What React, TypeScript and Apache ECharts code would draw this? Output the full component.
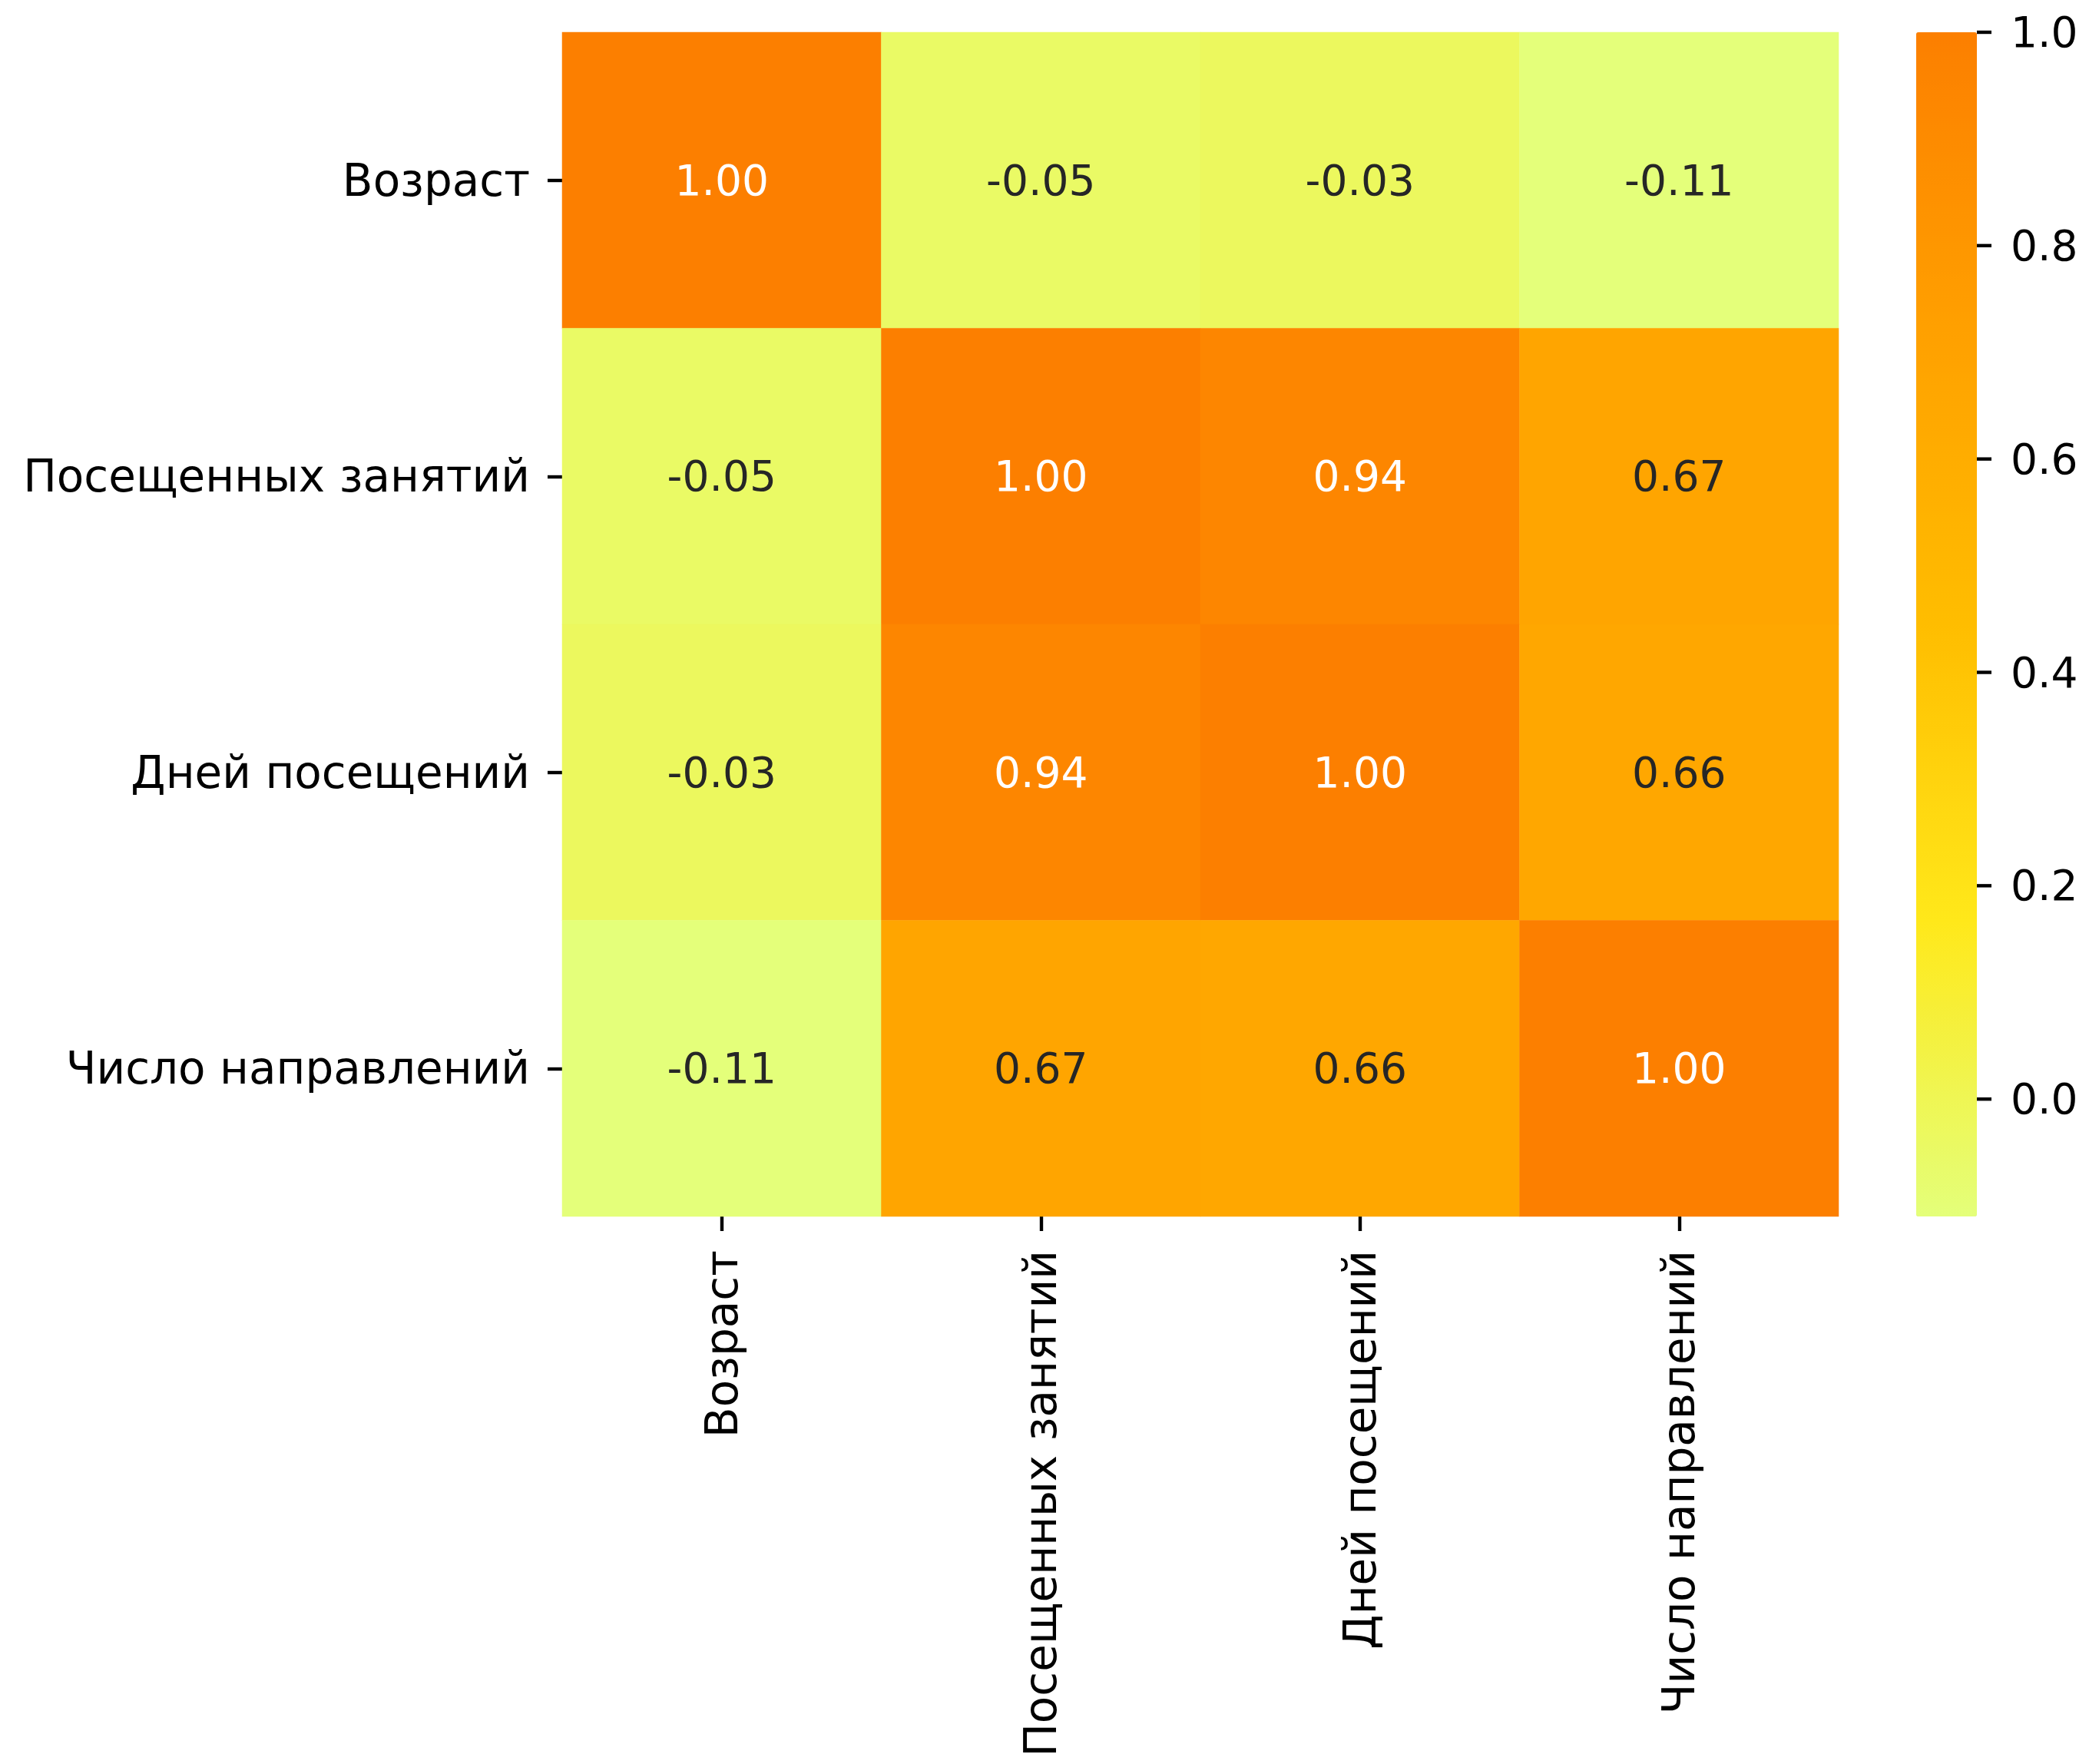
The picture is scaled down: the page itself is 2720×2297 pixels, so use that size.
import React, { useEffect, useRef } from "react";
import * as echarts from "echarts";

const categories = ["Возраст", "Посещенных занятий", "Дней посещений", "Число направлений"];
const rowAge = [1.0, -0.05, -0.03, -0.11];
const rowClasses = [-0.05, 1.0, 0.94, 0.67];
const rowDays = [-0.03, 0.94, 1.0, 0.66];
const rowDirections = [-0.11, 0.67, 0.66, 1.0];
const matrix = [rowAge, rowClasses, rowDays, rowDirections];
const cbarTicks = [0.0, 0.2, 0.4, 0.6, 0.8, 1.0];

// matplotlib "Wistia" colormap stops (evenly spaced)
const wistia = ["#e4ff7a", "#ffe81a", "#ffbd00", "#ffa000", "#fc7f00"];

const allVals = matrix.flat();
const vmin = Math.min(...allVals);
const vmax = Math.max(...allVals);

function hexToRgb(h: string) {
  return [parseInt(h.slice(1, 3), 16) / 255, parseInt(h.slice(3, 5), 16) / 255, parseInt(h.slice(5, 7), 16) / 255];
}
function colorAt(v: number) {
  const t = Math.max(0, Math.min(1, (v - vmin) / (vmax - vmin)));
  const pos = t * (wistia.length - 1);
  const i = Math.min(wistia.length - 2, Math.floor(pos));
  const f = pos - i;
  const a = hexToRgb(wistia[i]);
  const b = hexToRgb(wistia[i + 1]);
  return a.map((c, k) => c + (b[k] - c) * f);
}
function luminance(rgb: number[]) {
  const lin = rgb.map((c) => (c <= 0.03928 ? c / 12.92 : Math.pow((c + 0.055) / 1.055, 2.4)));
  return 0.2126 * lin[0] + 0.7152 * lin[1] + 0.0722 * lin[2];
}

const FONT = "DejaVu Sans";
const FS = 55;
const FS_CAT = 58;

export default function App() {
  const ref = useRef<HTMLDivElement>(null);
  useEffect(() => {
    if (!ref.current) return;
    const chart = echarts.init(ref.current, null, { renderer: "svg" });
    const data: any[] = [];
    matrix.forEach((row, yi) => {
      row.forEach((v, xi) => {
        const lum = luminance(colorAt(v));
        data.push({
          value: [xi, yi, v],
          label: { color: lum > 0.408 ? "#262626" : "#ffffff" },
        });
      });
    });
    chart.setOption({
      animation: false,
      backgroundColor: "#ffffff",
      grid: [
        { left: 732, top: 42, width: 1662, height: 1542, containLabel: false },
        { left: 2495, top: 42, width: 79, height: 1542, containLabel: false },
      ],
      xAxis: [
        {
          type: "category",
          gridIndex: 0,
          data: categories,
          position: "bottom",
          splitArea: { show: false },
          axisLine: { show: false },
          axisTick: { show: true, alignWithLabel: true, length: 19, lineStyle: { color: "#000", width: 4.4 } },
          axisLabel: { rotate: 90, margin: 44, fontSize: FS_CAT, fontFamily: FONT, color: "#000" },
        },
        { type: "value", gridIndex: 1, show: false, min: 0, max: 1 },
      ],
      yAxis: [
        {
          type: "category",
          gridIndex: 0,
          data: categories,
          inverse: true,
          splitArea: { show: false },
          axisLine: { show: false },
          axisTick: { show: true, alignWithLabel: true, length: 19, lineStyle: { color: "#000", width: 4.4 } },
          axisLabel: { margin: 42, fontSize: FS_CAT, fontFamily: FONT, color: "#000" },
        },
        {
          type: "value",
          gridIndex: 1,
          position: "right",
          min: vmin,
          max: vmax,
          splitLine: { show: false },
          axisLine: { show: false },
          axisTick: { show: false },
          axisLabel: {
            margin: 44,
            fontSize: FS,
            fontFamily: FONT,
            color: "#000",
            customValues: cbarTicks,
            formatter: (v: number) => v.toFixed(1),
          },
        },
      ],
      visualMap: {
        type: "continuous",
        show: true,
        seriesIndex: 0,
        min: vmin,
        max: vmax,
        calculable: false,
        hoverLink: false,
        orient: "vertical",
        left: 2495,
        top: 42,
        padding: 0,
        itemWidth: 79,
        itemHeight: 1542,
        inRange: { color: wistia },
      },
      series: [
        {
          type: "heatmap",
          xAxisIndex: 0,
          yAxisIndex: 0,
          data,
          itemStyle: { borderWidth: 0 },
          label: {
            show: true,
            fontSize: FS,
            fontFamily: FONT,
            formatter: (p: any) => p.value[2].toFixed(2),
          },
          emphasis: { disabled: true },
        },
        {
          type: "custom",
          xAxisIndex: 1,
          yAxisIndex: 1,
          silent: true,
          z: 10,
          data: cbarTicks.map((v) => [1, v]),
          renderItem: (params: any, api: any) => {
            const p = api.coord([1, api.value(1)]);
            return {
              type: "line",
              shape: { x1: p[0], y1: p[1], x2: p[0] + 19, y2: p[1] },
              style: { stroke: "#000", lineWidth: 4.4 },
            };
          },
        },
      ],
    });
    return () => chart.dispose();
  }, []);
  return (
    <div
      ref={ref}
      style={{ position: "absolute", left: 0, top: 0, width: 2720, height: 2297, background: "#fff" }}
    />
  );
}
